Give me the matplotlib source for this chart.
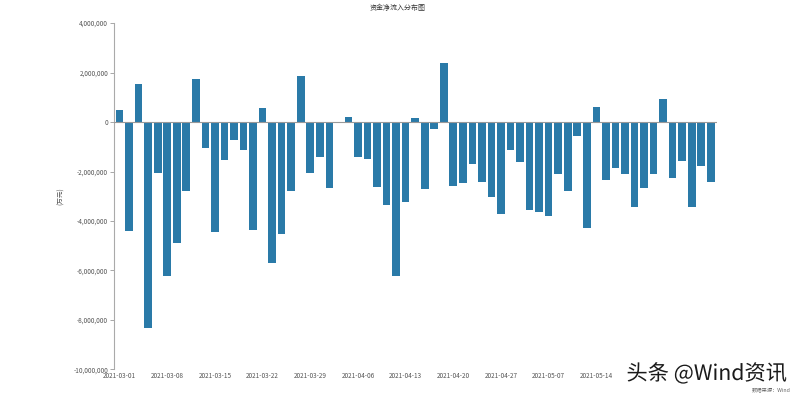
import matplotlib
matplotlib.use("Agg")
import matplotlib.pyplot as plt
import matplotlib.patheffects as pe
from matplotlib.ticker import FuncFormatter, MultipleLocator

plt.rcParams['font.family'] = ['Noto Sans CJK SC', 'DejaVu Sans']

dates = [
    "2021-03-01", "2021-03-02", "2021-03-03", "2021-03-04", "2021-03-05",
    "2021-03-08", "2021-03-09", "2021-03-10", "2021-03-11", "2021-03-12",
    "2021-03-15", "2021-03-16", "2021-03-17", "2021-03-18", "2021-03-19",
    "2021-03-22", "2021-03-23", "2021-03-24", "2021-03-25", "2021-03-26",
    "2021-03-29", "2021-03-30", "2021-03-31", "2021-04-01", "2021-04-02",
    "2021-04-06", "2021-04-07", "2021-04-08", "2021-04-09", "2021-04-12",
    "2021-04-13", "2021-04-14", "2021-04-15", "2021-04-16", "2021-04-19",
    "2021-04-20", "2021-04-21", "2021-04-22", "2021-04-23", "2021-04-26",
    "2021-04-27", "2021-04-28", "2021-04-29", "2021-04-30", "2021-05-06",
    "2021-05-07", "2021-05-10", "2021-05-11", "2021-05-12", "2021-05-13",
    "2021-05-14", "2021-05-17", "2021-05-18", "2021-05-19", "2021-05-20",
    "2021-05-21", "2021-05-24", "2021-05-25", "2021-05-26", "2021-05-27",
    "2021-05-28", "2021-05-31", "2021-06-01",
]

net_inflow = [
    470000, -4400000, 1540000, -8310000, -2070000,
    -6220000, -4900000, -2800000, 1720000, -1040000,
    -4430000, -1520000, -730000, -1130000, -4360000,
    550000, -5710000, -4530000, -2800000, 1860000,
    -2050000, -1410000, -2650000, 0, 220000,
    -1410000, -1510000, -2640000, -3350000, -6210000,
    -3250000, 180000, -2720000, -280000, 2370000,
    -2570000, -2450000, -1710000, -2410000, -3040000,
    -3700000, -1140000, -1600000, -3560000, -3650000,
    -3800000, -2100000, -2790000, -570000, -4270000,
    620000, -2330000, -1860000, -2100000, -3420000,
    -2670000, -2100000, 920000, -2280000, -1590000,
    -3450000, -1790000, -2440000,
]

# labelled dates visible in the reference (the later ones are hidden by the watermark)
tick_dates = ["2021-03-01", "2021-03-08", "2021-03-15", "2021-03-22", "2021-03-29",
              "2021-04-06", "2021-04-13", "2021-04-20", "2021-04-27", "2021-05-07",
              "2021-05-14"]

title = "资金净流入分布图"
y_label = "(万元)"
source = "数据来源：Wind"
watermark = "头条 @Wind资讯"

fig = plt.figure(figsize=(7.96, 3.97), dpi=100)
ax = fig.add_axes([0.1436, 0.0693, 0.7571, 0.8727])

x = list(range(len(dates)))
ax.bar(x, net_inflow, width=0.8, color="#2a7aa8", zorder=2)

ax.set_ylim(-10000000, 4000000)
ax.set_xlim(-0.55, len(dates) - 0.35)
ax.yaxis.set_major_locator(MultipleLocator(2000000))
ax.yaxis.set_major_formatter(FuncFormatter(lambda v, p: f"{int(v):,}"))

ax.set_xticks([dates.index(d) for d in tick_dates])
ax.set_xticklabels(tick_dates)
ax.tick_params(axis='x', length=0, labelsize=4.6, labelcolor="#555555", pad=2)
ax.tick_params(axis='y', length=3, width=0.6, color="#999999",
               labelsize=4.6, labelcolor="#555555", pad=1.5)

for s in ['top', 'right', 'bottom']:
    ax.spines[s].set_visible(False)
ax.spines['left'].set_color("#aaaaaa")
ax.spines['left'].set_linewidth(0.8)
ax.axhline(0, color="#999999", linewidth=0.8, zorder=3)

ax.set_ylabel(y_label, fontsize=4.8, color="#555555", labelpad=6)
fig.text(0.5, 0.99, title, ha='center', va='top', fontsize=5, color="#333333")
fig.text(0.993, 0.012, source, ha='right', va='bottom', fontsize=3.8, color="#666666")

fig.text(0.787, 0.058, watermark, ha='left', va='center', fontsize=15.3,
         color="#1a1a1a",
         path_effects=[pe.withStroke(linewidth=3, foreground="white")])

fig.savefig("out.png", dpi=100, facecolor="white")
